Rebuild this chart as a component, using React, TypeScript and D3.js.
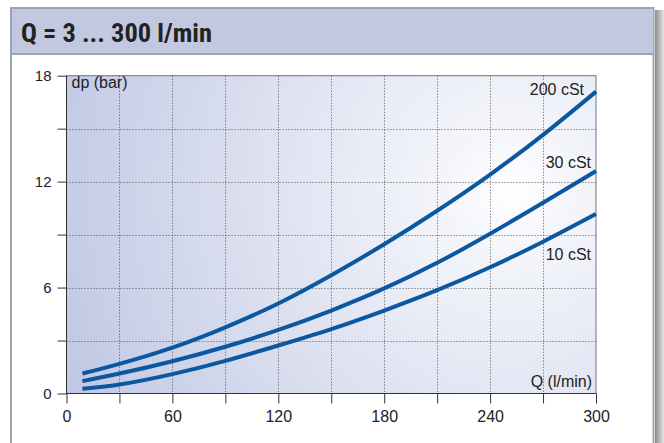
import { useEffect, useRef } from 'react';
import * as d3 from 'd3';

// flow (l/min) and pressure drop (bar)
const flow = [9, 30, 60, 90, 120, 150, 180, 210, 240, 270, 300];
const dp200 = [1.13, 1.68, 2.6, 3.75, 5.1, 6.7, 8.45, 10.35, 12.4, 14.65, 17.1];
const dp30 = [0.7, 1.13, 1.83, 2.65, 3.6, 4.7, 5.95, 7.4, 9.05, 10.8, 12.6];
const dp10 = [0.27, 0.51, 1.1, 1.85, 2.72, 3.65, 4.7, 5.85, 7.15, 8.6, 10.17];
const seriesNames = ['200 cSt', '30 cSt', '10 cSt'];
const xTicks = [0, 30, 60, 90, 120, 150, 180, 210, 240, 270, 300];
const xLabels = [0, 60, 120, 180, 240, 300];
const yTicks = [0, 3, 6, 9, 12, 15, 18];
const yLabels = [0, 6, 12, 18];

const W = 664;
const H = 443;

export default function App() {
  const svgRef = useRef<SVGSVGElement>(null);

  useEffect(() => {
    if (!svgRef.current) return;
    const svg = d3.select(svgRef.current);
    svg.selectAll('*').remove();

    const left = 66.5;
    const right = 596;
    const top = 75.7;
    const bottom = 393.5;

    const x = d3.scaleLinear().domain([0, 300]).range([left, right]);
    const y = d3.scaleLinear().domain([0, 18]).range([bottom, top]);

    const defs = svg.append('defs');
    const rg = defs
      .append('radialGradient')
      .attr('id', 'bg')
      .attr('gradientUnits', 'userSpaceOnUse')
      .attr('cx', 510)
      .attr('cy', 190)
      .attr('r', 490);
    rg.append('stop').attr('offset', 0).attr('stop-color', '#ffffff');
    rg.append('stop').attr('offset', 0.12).attr('stop-color', '#f5f6fb');
    rg.append('stop').attr('offset', 1).attr('stop-color', '#bfc7e3');

    const sg = defs.append('linearGradient').attr('id', 'shadow');
    sg.append('stop').attr('offset', 0).attr('stop-color', '#8c8c8c');
    sg.append('stop').attr('offset', 1).attr('stop-color', '#e4e4e4');

    // frame
    svg.append('rect').attr('width', W).attr('height', H).attr('fill', '#fff');
    svg
      .append('rect')
      .attr('x', 655)
      .attr('y', 10)
      .attr('width', 9)
      .attr('height', H)
      .attr('fill', 'url(#shadow)');
    svg
      .append('rect')
      .attr('x', 11)
      .attr('y', 8)
      .attr('width', 642.5)
      .attr('height', H + 20)
      .attr('fill', '#fff')
      .attr('stroke', '#9aa5ad')
      .attr('stroke-width', 2);
    svg
      .append('rect')
      .attr('x', 12)
      .attr('y', 9)
      .attr('width', 640.5)
      .attr('height', 44)
      .attr('fill', '#c1c8e0');
    svg
      .append('line')
      .attr('x1', 12)
      .attr('x2', 653)
      .attr('y1', 54)
      .attr('y2', 54)
      .attr('stroke', '#9aa5ad')
      .attr('stroke-width', 2);
    svg
      .append('text')
      .attr('x', 21)
      .attr('y', 42)
      .attr('font-family', "'Liberation Sans Narrow', 'Roboto Condensed', Roboto, sans-serif")
      .attr('font-weight', 'bold')
      .attr('font-size', 25)
      .attr('fill', '#222')
      .attr('textLength', 191)
      .attr('lengthAdjust', 'spacingAndGlyphs')
      .text('Q = 3 ... 300 l/min');

    // plot area
    svg
      .append('rect')
      .attr('x', left)
      .attr('y', top)
      .attr('width', right - left)
      .attr('height', bottom - top)
      .attr('fill', 'url(#bg)')
      .attr('stroke', '#6f747c')
      .attr('stroke-width', 1);

    const grid = svg.append('g').attr('stroke', '#555').attr('stroke-width', 1).attr('stroke-dasharray', '1,2');
    grid
      .selectAll('.vx')
      .data(xTicks.filter((d) => d > 0 && d < 300))
      .join('line')
      .attr('x1', (d) => Math.round(x(d)) + 0.5)
      .attr('x2', (d) => Math.round(x(d)) + 0.5)
      .attr('y1', top)
      .attr('y2', bottom);
    grid
      .selectAll('.hy')
      .data(yTicks.filter((d) => d > 0 && d < 18))
      .join('line')
      .attr('x1', left)
      .attr('x2', right)
      .attr('y1', (d) => Math.round(y(d)) + 0.5)
      .attr('y2', (d) => Math.round(y(d)) + 0.5);

    // axes
    const font = 'Arial, "Liberation Sans", sans-serif';
    const yAxis = svg
      .append('g')
      .attr('transform', `translate(${left},0)`)
      .call(
        d3
          .axisLeft(y)
          .tickValues(yTicks)
          .tickSize(9)
          .tickPadding(6)
          .tickFormat((d) => (yLabels.includes(+d) ? String(d) : ''))
      );
    yAxis.select('.domain').attr('stroke', '#333').attr('d', `M0,${top}V${bottom}`);
    yAxis.selectAll('line').attr('stroke', '#333');
    yAxis.selectAll('text').attr('font-family', font).attr('font-size', 15).attr('fill', '#222');

    const xAxis = svg
      .append('g')
      .attr('transform', `translate(0,${bottom})`)
      .call(
        d3
          .axisBottom(x)
          .tickValues(xTicks)
          .tickSize(10)
          .tickPadding(7)
          .tickFormat((d) => (xLabels.includes(+d) ? String(d) : ''))
      );
    xAxis.select('.domain').attr('stroke', '#333').attr('d', `M${left},0H${right}`);
    xAxis.selectAll('line').attr('stroke', '#333');
    xAxis.selectAll('text').attr('font-family', font).attr('font-size', 16).attr('fill', '#222');

    // curves
    const series = [dp200, dp30, dp10];
    const line = d3
      .line<number>()
      .x((_, i) => x(flow[i]))
      .y((d) => y(d))
      .curve(d3.curveNatural);
    svg
      .append('g')
      .selectAll('path')
      .data(series)
      .join('path')
      .attr('d', (d) => line(d))
      .attr('fill', 'none')
      .attr('stroke', '#0b57a0')
      .attr('stroke-width', 4);

    // labels
    const lab = svg.append('g').attr('font-family', font).attr('font-size', 16).attr('fill', '#222');
    lab.append('text').attr('x', left + 5).attr('y', 88).text('dp (bar)');
    lab.append('text').attr('x', right - 4).attr('y', 387).attr('text-anchor', 'end').text('Q (l/min)');
    const labY = [95, 168, 260];
    const labX = [584, 591, 591];
    seriesNames.forEach((n, i) => {
      lab.append('text').attr('x', labX[i]).attr('y', labY[i]).attr('text-anchor', 'end').text(n);
    });
  }, []);

  return (
    <div style={{ position: 'fixed', left: 0, top: 0 }}>
      <svg ref={svgRef} width={W} height={H} viewBox={`0 0 ${W} ${H}`} style={{ display: 'block' }} />
    </div>
  );
}
